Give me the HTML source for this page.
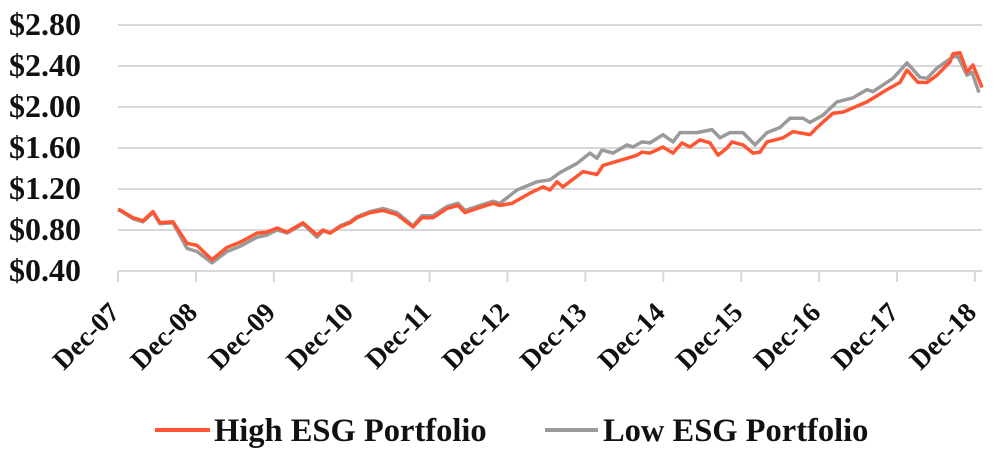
<!DOCTYPE html>
<html><head><meta charset="utf-8"><style>
body{margin:0;background:#fff}
svg{display:block}
text{font-family:"Liberation Serif",serif;font-weight:bold;fill:#111}
</style></head><body>
<svg id="s" width="1000" height="458" xmlns="http://www.w3.org/2000/svg">
<g stroke="#d9d9d9" stroke-width="2">
<line x1="118" x2="982" y1="25" y2="25"/>
<line x1="118" x2="982" y1="66" y2="66"/>
<line x1="118" x2="982" y1="107" y2="107"/>
<line x1="118" x2="982" y1="148" y2="148"/>
<line x1="118" x2="982" y1="189" y2="189"/>
<line x1="118" x2="982" y1="230" y2="230"/>
<line x1="118" x2="982" y1="271" y2="271"/>
</g>
<g id="ticks" stroke="#d9d9d9" stroke-width="2"></g>
<g font-size="32" text-anchor="end">
<text x="81" y="35">$2.80</text>
<text x="81" y="76">$2.40</text>
<text x="81" y="117">$2.00</text>
<text x="81" y="158">$1.60</text>
<text x="81" y="199">$1.20</text>
<text x="81" y="240">$0.80</text>
<text x="81" y="281">$0.40</text>
</g>
<g id="xl" font-size="27.5" text-anchor="end"></g>
<polyline id="lo" fill="none" stroke="#9a9a9a" stroke-width="3.5" stroke-linejoin="round"/>
<polyline id="hi" fill="none" stroke="#ff5533" stroke-width="3.5" stroke-linejoin="round"/>
<line x1="155" x2="210" y1="430" y2="430" stroke="#ff5533" stroke-width="4"/>
<text x="214" y="441" font-size="32.5">High ESG Portfolio</text>
<line x1="545" x2="598" y1="430" y2="430" stroke="#9a9a9a" stroke-width="4"/>
<text x="603" y="441" font-size="32.5">Low ESG Portfolio</text>
</svg>
<script>
var NS="http://www.w3.org/2000/svg";
function X(t){return 118+77.9*t}
function Y(v){return 271-(v-0.4)*102.5}
var tk=document.getElementById('ticks'),xl=document.getElementById('xl');
for(var i=0;i<=11;i++){
 var x=X(i);
 var l=document.createElementNS(NS,'line');l.setAttribute('x1',x);l.setAttribute('x2',x);l.setAttribute('y1',271);l.setAttribute('y2',282);tk.appendChild(l);
 var t=document.createElementNS(NS,'text');var yr=(i+7).toString().padStart(2,'0');
 t.textContent='Dec-'+yr;t.setAttribute('transform','translate('+(x+3)+',314) rotate(-45)');xl.appendChild(t);
}
var hi=[[118,1.0],[120,0.995],[133,0.92],[143,0.89],[153,0.98],[160,0.87],[173,0.88],[187,0.67],[197,0.65],[212,0.51],[227,0.63],[240,0.68],[257,0.77],[267,0.78],[277,0.82],[287,0.78],[303,0.87],[317,0.75],[323,0.80],[330,0.77],[340,0.83],[350,0.87],[357,0.92],[370,0.97],[383,0.99],[397,0.95],[413,0.83],[422,0.92],[433,0.92],[447,1.01],[458,1.04],[465,0.97],[480,1.02],[493,1.06],[500,1.04],[512,1.06],[530,1.16],[543,1.22],[550,1.19],[557,1.27],[563,1.22],[583,1.37],[597,1.34],[603,1.43],[627,1.50],[637,1.53],[642,1.56],[650,1.55],[663,1.61],[673,1.55],[682,1.65],[690,1.61],[700,1.68],[710,1.65],[718,1.53],[727,1.60],[732,1.66],[743,1.63],[753,1.55],[760,1.56],[767,1.66],[783,1.70],[793,1.76],[810,1.73],[817,1.80],[833,1.94],[843,1.95],[867,2.05],[887,2.17],[900,2.24],[907,2.36],[918,2.24],[927,2.24],[937,2.31],[950,2.44],[953,2.52],[960,2.53],[967,2.34],[973,2.41],[982,2.19]];
var lo=[[118,1.0],[120,0.99],[133,0.91],[143,0.88],[153,0.97],[160,0.86],[173,0.87],[187,0.62],[197,0.59],[212,0.48],[227,0.59],[240,0.64],[257,0.73],[267,0.75],[277,0.80],[287,0.77],[303,0.86],[317,0.73],[323,0.79],[330,0.77],[340,0.84],[350,0.88],[357,0.93],[370,0.98],[383,1.01],[397,0.97],[413,0.84],[422,0.94],[433,0.94],[447,1.03],[458,1.06],[465,0.99],[480,1.04],[493,1.08],[500,1.06],[517,1.19],[537,1.27],[550,1.29],[560,1.36],[577,1.45],[590,1.55],[597,1.50],[602,1.58],[613,1.55],[627,1.63],[633,1.61],[642,1.66],[650,1.65],[663,1.73],[673,1.66],[680,1.75],[697,1.75],[712,1.78],[720,1.70],[730,1.75],[743,1.75],[755,1.63],[767,1.75],[780,1.80],[790,1.89],[803,1.89],[810,1.85],[823,1.92],[837,2.05],[853,2.09],[867,2.17],[873,2.15],[893,2.28],[907,2.43],[920,2.29],[927,2.28],[937,2.38],[953,2.49],[958,2.49],[967,2.31],[972,2.34],[979,2.14]];
function pts(a){return a.map(function(p){return p[0]+','+Y(p[1]).toFixed(1)}).join(' ')}
document.getElementById('hi').setAttribute('points',pts(hi));
document.getElementById('lo').setAttribute('points',pts(lo));
</script>
</body></html>
